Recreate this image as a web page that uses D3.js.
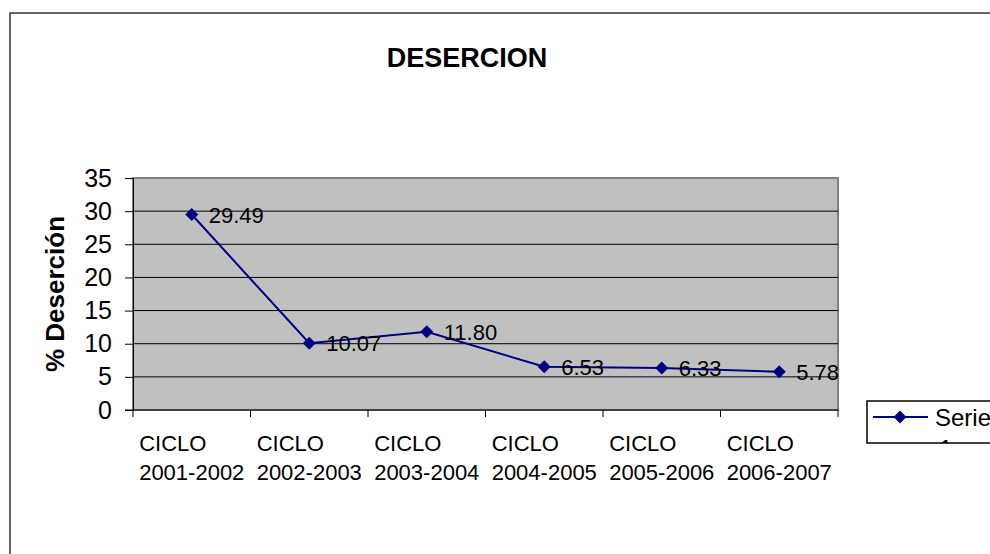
<!DOCTYPE html>
<html lang="es">
  <head>
    <meta charset="utf-8" />
    <title>DESERCION</title>
    <script src="https://d3js.org/d3.v7.js"></script>
    <style>
      body { margin: 0; background: #fff; }
      text { font-family: "Liberation Sans", Arial, sans-serif; fill: #000; }
    </style>
  </head>
  <body>
    <div id="graph"></div>
    <script>

    // data
    var ciclos = ["2001-2002", "2002-2003", "2003-2004", "2004-2005", "2005-2006", "2006-2007"];
    var desercion = [29.49, 10.07, 11.80, 6.53, 6.33, 5.78];
    var yTicks = [0, 5, 10, 15, 20, 25, 30, 35];
    var serieName = "Series 1";

    var w = 990, h = 554;
    var margin = {top: 178, right: 152, bottom: 144, left: 133};
    var innerWidth = w - margin.left - margin.right;
    var innerHeight = h - margin.top - margin.bottom;

    var svg = d3.select("#graph")
      .append("svg")
        .attr("width", w)
        .attr("height", h);

    // outer chart frame (right and bottom run off the page)
    svg.append("rect")
      .attr("x", 10)
      .attr("y", 13)
      .attr("width", w + 20)
      .attr("height", h + 20)
      .attr("fill", "none")
      .attr("stroke", "#333")
      .attr("stroke-width", 1.5);

    svg.append("text")
      .attr("x", 467)
      .attr("y", 67)
      .attr("text-anchor", "middle")
      .style("font-size", "27px")
      .style("font-weight", "bold")
      .text("DESERCION");

    var g = svg.append("g")
      .attr("transform", `translate(${margin.left},${margin.top})`);

    var x = d3.scaleBand()
      .domain(ciclos)
      .range([0, innerWidth]);

    var y = d3.scaleLinear()
      .domain([0, 35])
      .range([innerHeight, 0]);

    // plot area
    g.append("rect")
      .attr("width", innerWidth)
      .attr("height", innerHeight)
      .attr("fill", "#c0c0c0")
      .attr("stroke", "#808080")
      .attr("stroke-width", 2);

    // gridlines
    g.selectAll(".grid")
      .data(yTicks.filter(t => t > 0 && t < 35))
      .join("line")
        .attr("class", "grid")
        .attr("x1", 0)
        .attr("x2", innerWidth)
        .attr("y1", d => y(d))
        .attr("y2", d => y(d))
        .attr("stroke", "#000")
        .attr("stroke-width", 1);

    // y axis
    var yAxis = g.append("g")
      .call(d3.axisLeft(y).tickValues(yTicks).tickSize(8).tickPadding(13));
    yAxis.select(".domain").attr("stroke", "#000");
    yAxis.selectAll("text")
      .style("font-size", "25px")
      .style("font-family", "Liberation Sans, Arial, sans-serif");

    // x axis, ticks between categories
    var xAxisG = g.append("g")
      .attr("transform", `translate(0,${innerHeight})`);
    xAxisG.append("line")
      .attr("x1", -8).attr("x2", innerWidth)
      .attr("stroke", "#000");
    var bounds = ciclos.map(c => x(c)).concat([innerWidth]);
    xAxisG.selectAll(".xt")
      .data(bounds)
      .join("line")
        .attr("class", "xt")
        .attr("x1", d => d).attr("x2", d => d)
        .attr("y1", 0).attr("y2", 7)
        .attr("stroke", "#000");

    var labels = xAxisG.selectAll(".xl")
      .data(ciclos)
      .join("text")
        .attr("class", "xl")
        .style("font-size", "22px");
    labels.append("tspan").attr("class", "l1").attr("y", 41).text("CICLO");
    labels.append("tspan").attr("class", "l2").attr("y", 70).text(d => d);
    labels.each(function(d) {
      var t = d3.select(this);
      var wid = t.select(".l2").node().getComputedTextLength();
      var x0 = x(d) + x.bandwidth() / 2 - wid / 2;
      t.selectAll("tspan").attr("x", x0);
    });

    // line + markers
    var pts = ciclos.map((c, i) => ({c: c, v: desercion[i]}));
    var line = d3.line()
      .x(d => x(d.c) + x.bandwidth() / 2)
      .y(d => y(d.v));

    g.append("path")
      .datum(pts)
      .attr("d", line)
      .attr("fill", "none")
      .attr("stroke", "#000080")
      .attr("stroke-width", 2);

    var diamond = d3.symbol().type(d3.symbolSquare).size(85);
    g.selectAll(".mk")
      .data(pts)
      .join("path")
        .attr("class", "mk")
        .attr("d", diamond)
        .attr("transform", d => `translate(${x(d.c) + x.bandwidth() / 2},${y(d.v)}) rotate(45)`)
        .attr("fill", "#000080");

    g.selectAll(".dl")
      .data(pts)
      .join("text")
        .attr("class", "dl")
        .attr("x", d => x(d.c) + x.bandwidth() / 2 + 17)
        .attr("y", d => y(d.v) + 8)
        .style("font-size", "22px")
        .text(d => d.v.toFixed(2));

    // y axis title
    svg.append("text")
      .attr("transform", `translate(64,${margin.top + innerHeight / 2}) rotate(-90)`)
      .attr("text-anchor", "middle")
      .style("font-size", "26px")
      .style("font-weight", "bold")
      .text("% Deserción");

    // legend (clipped, text runs off the page)
    var lg = svg.append("g").attr("transform", "translate(867,401)");
    lg.append("clipPath").attr("id", "lgclip")
      .append("rect").attr("width", 200).attr("height", 42);
    lg.append("rect")
      .attr("width", 200).attr("height", 42)
      .attr("fill", "#fff")
      .attr("stroke", "#000")
      .attr("stroke-width", 1.5);
    lg.append("line")
      .attr("x1", 6).attr("x2", 61)
      .attr("y1", 16).attr("y2", 16)
      .attr("stroke", "#000080")
      .attr("stroke-width", 2);
    lg.append("path")
      .attr("d", diamond)
      .attr("transform", "translate(33,16) rotate(45)")
      .attr("fill", "#000080");
    var lt = lg.append("text")
      .attr("clip-path", "url(#lgclip)")
      .style("font-size", "24px");
    lt.append("tspan").attr("x", 68).attr("y", 25).text(serieName.split(" ")[0]);
    lt.append("tspan").attr("x", 72).attr("y", 56).text(serieName.split(" ")[1]);

    </script>
  </body>
</html>
